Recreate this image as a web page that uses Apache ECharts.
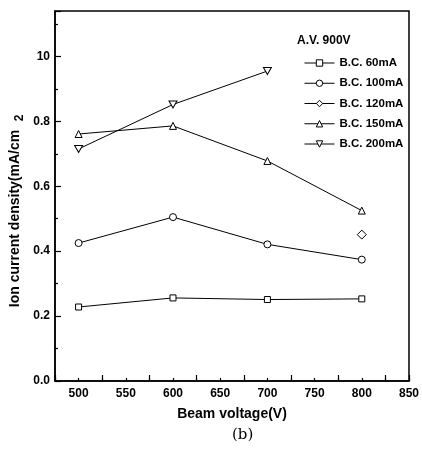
<!DOCTYPE html>
<html>
<head>
<meta charset="utf-8">
<script src="https://cdn.jsdelivr.net/npm/echarts@6/dist/echarts.min.js"></script>
<style>html,body{margin:0;padding:0;background:#fff}#c{width:422px;height:451px}</style>
</head>
<body>
<div id="c"></div>
<script>
var beamVoltage = [500, 600, 700, 800];
var bc60 = [0.228, 0.256, 0.251, 0.253];
var bc100 = [0.425, 0.505, 0.421, 0.374];
var bc120 = [null, null, null, 0.451];
var bc150 = [0.761, 0.786, 0.678, 0.525];
var bc200 = [0.715, 0.852, 0.955, null];
var seriesNames = ['B.C. 60mA', 'B.C. 100mA', 'B.C. 120mA', 'B.C. 150mA', 'B.C. 200mA'];
var seriesSymbols = ['rect', 'circle', 'diamond', 'triangle', 'path://M0,0 L10,0 L5,9 Z'];
var seriesData = [bc60, bc100, bc120, bc150, bc200];
var yTickLabels = {'0': '0.0', '0.2': '0.2', '0.4': '0.4', '0.6': '0.6', '0.8': '0.8', '1': '10'};
var xTickLabels = [500, 550, 600, 650, 700, 750, 800, 850];

var font = "'Liberation Sans',Arial,sans-serif";
var chart = echarts.init(document.getElementById('c'));
var sizes = [6, 7, 9, 7, [8, 7]];
var series = seriesData.map(function (d, i) {
  return {
    name: seriesNames[i],
    type: 'line',
    xAxisIndex: 0,
    data: beamVoltage.map(function (x, j) { return [x, d[j]]; }).filter(function (p) { return p[1] !== null; }),
    symbol: seriesSymbols[i],
    symbolSize: sizes[i],
    showAllSymbol: true,
    lineStyle: { color: '#000', width: 1 },
    itemStyle: { color: '#fff', borderColor: '#000', borderWidth: 1 },
    z: 3
  };
});
chart.setOption({
  animation: false,
  backgroundColor: '#fff',
  grid: { left: 55, right: 10, top: 11, bottom: 70, show: true, borderColor: '#000', borderWidth: 1.5, backgroundColor: 'transparent' },
  legend: {
    orient: 'vertical', left: 299, top: 52, itemGap: 8.25, itemWidth: 30, itemHeight: 8,
    itemStyle: { color: '#fff', borderColor: '#000', borderWidth: 1 },
    lineStyle: { color: '#000', width: 1 },
    textStyle: { fontFamily: font, fontWeight: 'bold', fontSize: 11.5, color: '#000' },
    data: seriesNames
  },
  xAxis: [{
    type: 'value', min: 475, max: 850, interval: 25,
    axisLine: { show: true, onZero: false, lineStyle: { color: '#000', width: 1.5 } },
    axisTick: { show: true, inside: true, length: 3, lineStyle: { color: '#000', width: 1.2 } },
    splitLine: { show: false },
    axisLabel: {
      margin: 7, color: '#000', fontFamily: font, fontWeight: 'bold', fontSize: 12,
      formatter: function (v) { return xTickLabels.indexOf(v) >= 0 ? String(v) : ''; }
    },
    name: 'Beam voltage(V)', nameLocation: 'middle', nameGap: 26,
    nameTextStyle: { fontFamily: font, fontWeight: 'bold', fontSize: 14, color: '#000' }
  }, {
    type: 'value', min: 475, max: 850, interval: 50, position: 'bottom',
    axisLine: { show: false },
    axisTick: { show: true, inside: true, length: 6, lineStyle: { color: '#000', width: 1.2 } },
    axisLabel: { show: false }, splitLine: { show: false }
  }],
  yAxis: {
    type: 'value', min: 0, max: 1.14, interval: 0.2,
    axisLine: { show: true, lineStyle: { color: '#000', width: 1.5 } },
    axisTick: { show: true, inside: true, length: 6, lineStyle: { color: '#000', width: 1.2 } },
    minorTick: { show: true, splitNumber: 2, length: 3, lineStyle: { color: '#000', width: 1.2 } },
    splitLine: { show: false },
    axisLabel: {
      margin: 5, color: '#000', fontFamily: font, fontWeight: 'bold', fontSize: 12, showMaxLabel: false,
      formatter: function (v) { var k = String(Math.round(v * 10) / 10); return yTickLabels[k] !== undefined ? yTickLabels[k] : ''; }
    },
    name: 'Ion current density(mA/cm', nameLocation: 'middle', nameGap: 27, nameRotate: 90,
    nameTextStyle: { fontFamily: font, fontWeight: 'bold', fontSize: 14, color: '#000', padding: [0, 0, 0, -45] }
  },
  graphic: [
    { type: 'text', left: 297, top: 35, style: { text: 'A.V. 900V', font: 'bold 12px ' + font, fill: '#000' } },
    { type: 'text', x: 20, y: 118, rotation: Math.PI / 2, style: { text: '2', font: 'bold 12px ' + font, fill: '#000', align: 'center', verticalAlign: 'middle' } },
    { type: 'text', left: 232, top: 428, style: { text: '(b)', font: '15px "DejaVu Serif", "Liberation Serif", serif', fill: '#000' } }
  ],
  series: series
});
</script>
</body>
</html>
